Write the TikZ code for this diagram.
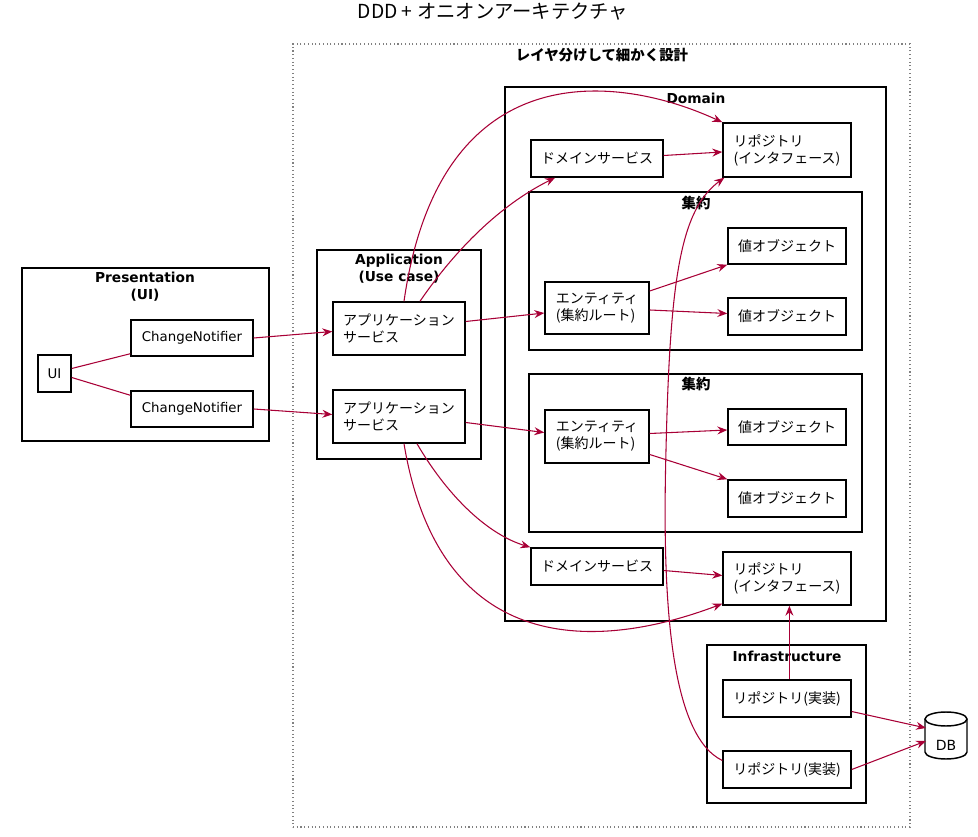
\documentclass[tikz,border=0pt]{standalone}
\usepackage{fontspec}
\setmainfont{DejaVu Sans}
\newfontfamily\jp[Scale=1.05]{Noto Sans CJK JP}
\usetikzlibrary{arrows.meta,calc,fit,positioning}
\definecolor{linkred}{HTML}{A80036}

\begin{document}
\begin{tikzpicture}[x=0.75pt, y=-0.75pt]
	\tikzset{
		boxtext/.style={inner sep=0pt, align=left, font=\fontsize{10}{12.75}\selectfont},
		box/.style={draw, line width=1.1pt, fill=white, inner sep=0pt, label={[boxtext]center:#1}},
		group/.style={draw, line width=1.1pt, inner sep=0pt},
		gtitle/.style={font=\fontsize{10.3}{12.75}\selectfont\bfseries, align=center},
		link/.style={draw=linkred, line width=0.8pt, -{Stealth[length=7.5pt, width=6pt, inset=2.6pt]}},
		plain/.style={draw=linkred, line width=0.8pt}
	}
	\useasboundingbox (0,0) rectangle (978,837);
	\node [font=\fontsize{13.8}{17}\selectfont\jp] (title) at (493,12) {DDD + オニオンアーキテクチャ};
	% outer package
	\node [draw=gray, dotted, line width=0.8pt, inner sep=0pt, fit={(293,44) (910,827)}] (layers) {};
	\node [gtitle] (layers-t) at (602,55) {\jp レイヤ分けして細かく設計};
	% presentation
	\node [group, fit={(22,268) (269,441)}] (pres) {};
	\node [gtitle] (pres-t) at (145,287) {Presentation\\(UI)};
	\node [box=UI, fit={(38,355) (71,392)}] (ui) {};
	\node [box=ChangeNotifier, fit={(131,320) (253,356)}] (cn1) {};
	\node [box=ChangeNotifier, fit={(131,391) (253,427)}] (cn2) {};
	% application
	\node [group, fit={(317,250) (481,459)}] (app) {};
	\node [gtitle] (app-t) at (399,269) {Application\\(Use case)};
	\node [box={\jp アプリケーション\\\jp サービス}, fit={(333,302) (465,355)}] (as1) {};
	\node [box={\jp アプリケーション\\\jp サービス}, fit={(333,390) (465,443)}] (as2) {};
	% domain
	\node [group, fit={(505,87) (886,621)}] (dom) {};
	\node [gtitle] (dom-t) at (696,98) {Domain};
	\node [box={\jp ドメインサービス}, fit={(531,140) (663,177)}] (ds1) {};
	\node [box={\jp リポジトリ\\\jp (インタフェース)}, fit={(723,123) (851,177)}] (repo1) {};
	\node [group, fit={(529,192) (862,350)}] (agg1) {};
	\node [gtitle] (agg1-t) at (696,203) {\jp 集約};
	\node [box={\jp エンティティ\\\jp (集約ルート)}, fit={(545,282) (649,334)}] (ent1) {};
	\node [box={\jp 値オブジェクト}, fit={(728,228) (846,264)}] (vo1) {};
	\node [box={\jp 値オブジェクト}, fit={(728,298) (846,335)}] (vo2) {};
	\node [group, fit={(529,374) (862,532)}] (agg2) {};
	\node [gtitle] (agg2-t) at (696,384) {\jp 集約};
	\node [box={\jp エンティティ\\\jp (集約ルート)}, fit={(545,410) (649,463)}] (ent2) {};
	\node [box={\jp 値オブジェクト}, fit={(728,409) (846,445)}] (vo3) {};
	\node [box={\jp 値オブジェクト}, fit={(728,480) (846,517)}] (vo4) {};
	\node [box={\jp ドメインサービス}, fit={(531,548) (663,585)}] (ds2) {};
	\node [box={\jp リポジトリ\\\jp (インタフェース)}, fit={(723,552) (851,605)}] (repo2) {};
	% infrastructure
	\node [group, fit={(707,645) (866,803)}] (infra) {};
	\node [gtitle] (infra-t) at (787,656) {Infrastructure};
	\node [box={\jp リポジトリ(実装)}, fit={(723,680) (851,717)}] (ri1) {};
	\node [box={\jp リポジトリ(実装)}, fit={(723,751) (851,788)}] (ri2) {};
	% database
	\coordinate (db) at (946,736);
	\draw [line width=1.1pt, fill=white] ($(db)+(-21,-17)$) -- ($(db)+(-21,16)$)
		arc [start angle=180, end angle=0, x radius=21, y radius=7] -- ($(db)+(21,-17)$);
	\draw [line width=1.1pt, fill=white] ($(db)+(0,-17)$) ellipse [x radius=21, y radius=7];
	\node [font=\fontsize{10.5}{12}\selectfont] (db-t) at ($(db)+(0,9)$) {DB};
	% connectors
	\draw [plain] ($(ui.east)+(0,-5)$) -- ($(cn1.south west)+(0,-3)$);
	\draw [plain] ($(ui.east)+(0,4)$) -- ($(cn2.north west)+(0,5)$);
	\draw [link] (cn1.east) -- ($(as1.west)+(0,3)$);
	\draw [link] (cn2.east) -- ($(as2.west)+(0,-2)$);
	\draw [link] ($(as1.east)+(0,-7)$) -- ($(ent1.west)+(0,5)$);
	\draw [link] ($(as2.east)+(0,6)$) -- ($(ent2.west)+(0,-4)$);
	\draw [link] ($(as1.north)+(21,0)$) .. controls (455,250) and (500,205) .. ($(ds1.south)+(-42,0)$);
	\draw [link] ($(as1.north)+(5,0)$) .. controls (440,50) and (620,75) .. (repo1.north west);
	\draw [link] ($(as2.south)+(18,0)$) .. controls (450,500) and (490,535) .. (ds2.north west);
	\draw [link] ($(as2.south)+(5,0)$) .. controls (440,660) and (600,650) .. ($(repo2.south west)+(0,-2)$);
	\draw [link] ($(ds1.east)+(0,-3)$) -- ($(repo1.west)+(0,2)$);
	\draw [link] ($(ds2.east)+(0,4)$) -- ($(repo2.west)+(0,-3)$);
	\draw [link] ($(ent1.east)+(0,-17)$) -- (vo1.south west);
	\draw [link] ($(ent1.east)+(0,2)$) -- ($(vo2.west)+(0,-3)$);
	\draw [link] ($(ent2.east)+(0,-3)$) -- ($(vo3.west)+(0,3)$);
	\draw [link] ($(ent2.east)+(0,18)$) -- (vo4.north west);
	\draw [link] ($(ri1.north)+(2.4,0)$) -- ($(repo2.south)+(2.4,0)$);
	\draw [link] ($(ri2.west)+(0,-9)$) .. controls (670,735) and (662,600) .. (666,450)
		.. controls (670,280) and (680,210) .. ($(repo1.south west)+(2,0)$);
	\draw [link] ($(ri1.east)+(0,13)$) -- ($(db)+(-20,-8)$);
	\draw [link] (ri2.east) -- ($(db)+(-20,5)$);
\end{tikzpicture}
\end{document}
